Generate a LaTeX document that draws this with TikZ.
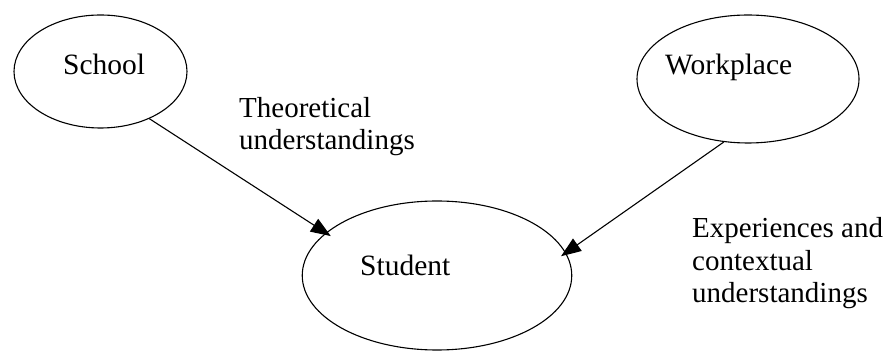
\documentclass[tikz,border=0pt]{standalone}
\usepackage{fontspec}
\setmainfont{Liberation Serif}
\usetikzlibrary{shapes.geometric,arrows.meta}
\begin{document}
\begin{tikzpicture}[x=1pt,y=-1pt,
  oval/.style={draw,ellipse,line width=1.1pt,inner sep=0pt},
  txt/.style={anchor=base west,inner sep=0pt,font=\fontsize{29.5}{32}\selectfont},
  lbl/.style={anchor=base west,inner sep=0pt,align=left,font=\fontsize{29}{32}\selectfont},
  conn/.style={line width=1.1pt,-{Triangle[length=20pt,width=15pt]},shorten >=-6pt}]
\useasboundingbox (0,0) rectangle (888,352);
\node[oval,minimum width=173pt,minimum height=113pt] (school) at (100.5,71.5) {};
\node[oval,minimum width=222pt,minimum height=128pt] (workplace) at (748,79) {};
\node[oval,minimum width=269.5pt,minimum height=149pt] (student) at (437,275.5) {};
\node[txt] (schooltxt) at (63,75) {School};
\node[txt] (worktxt) at (665,75) {Workplace};
\node[txt] (studenttxt) at (360,276) {Student};
\node[lbl] (theo) at (239,150) {Theoretical\\understandings};
\node[lbl] (exper) at (692,302) {Experiences and\\contextual\\understandings};
\draw[conn] (school.-44) -- (student.159);
\draw[conn] (workplace.-111) -- (student.10);
\end{tikzpicture}
\end{document}
